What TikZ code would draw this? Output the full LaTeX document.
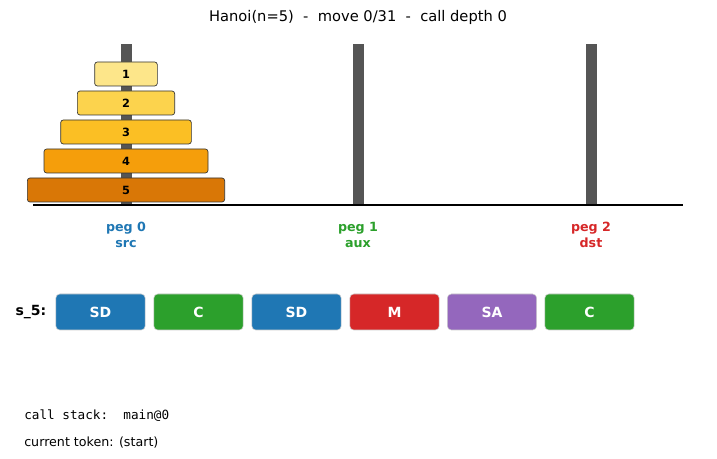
\documentclass[tikz,border=0pt]{standalone}
\usepackage{fontspec}
\setmainfont{DejaVu Sans}
\setmonofont{DejaVu Sans Mono}
\usetikzlibrary{positioning}
\definecolor{tabblue}{HTML}{1F77B4}
\definecolor{tabgreen}{HTML}{2CA02C}
\definecolor{tabred}{HTML}{D62728}
\definecolor{tabpurple}{HTML}{9467BD}
\definecolor{pegcol}{HTML}{555555}
\definecolor{dA}{HTML}{FDE68A}
\definecolor{dB}{HTML}{FCD34D}
\definecolor{dC}{HTML}{FBBF24}
\definecolor{dD}{HTML}{F59E0B}
\definecolor{dE}{HTML}{D97706}
\tikzset{
  disk/.style={draw=black!80,line width=0.5pt,rounded corners=2pt,minimum height=18pt,
    inner sep=0pt,font=\bfseries\fontsize{8.5}{9}\selectfont},
  tok/.style={draw=white!80!black,line width=0.4pt,rounded corners=3pt,minimum width=67pt,
    minimum height=27pt,text=white,font=\bfseries\fontsize{10.5}{12}\selectfont},
  peglbl/.style={align=center,font=\bfseries\fontsize{9.5}{11.5}\selectfont}
}
\begin{document}
\begin{tikzpicture}[x=0.75pt,y=-0.75pt]
  \useasboundingbox (0,0) rectangle (717,459);
  \node (title) at (358,17) {\fontsize{11}{12}\selectfont Hanoi(n=5)\ \ -\ \ move 0/31\ \ -\ \ call depth 0};
  % pegs
  \foreach \px in {126,358,591}
    \fill[pegcol] (\px-5.5,44) rectangle (\px+5.5,205);
  \draw[line width=1pt] (33,205) -- (683,205);
  % disks
  \node[disk,fill=dE,minimum width=148pt] (d5) at (126,190) {5};
  \node[disk,fill=dD,minimum width=123pt] (d4) at (126,161) {4};
  \node[disk,fill=dC,minimum width=98pt] (d3) at (126,132) {3};
  \node[disk,fill=dB,minimum width=73pt] (d2) at (126,103) {2};
  \node[disk,fill=dA,minimum width=47pt] (d1) at (126,74) {1};
  % peg labels
  \node[peglbl,text=tabblue] (p0) at (126,235) {peg 0\\src};
  \node[peglbl,text=tabgreen] (p1) at (358,235) {peg 1\\aux};
  \node[peglbl,text=tabred] (p2) at (591,235) {peg 2\\dst};
  % token row
  \node[font=\bfseries\fontsize{10.5}{12}\selectfont] (s5) at (31,312) {s\_5:};
  \node[tok,fill=tabblue] (t1) at (100.5,312) {SD};
  \node[tok,fill=tabgreen] (t2) at (198.5,312) {C};
  \node[tok,fill=tabblue] (t3) at (296.5,312) {SD};
  \node[tok,fill=tabred] (t4) at (394.5,312) {M};
  \node[tok,fill=tabpurple] (t5) at (492,312) {SA};
  \node[tok,fill=tabgreen] (t6) at (589.5,312) {C};
  % status
  \node[anchor=west,font=\ttfamily\fontsize{9.5}{10}\selectfont,inner sep=0pt] (stack) at (24,416) {call stack:\ \ main@0};
  \node[anchor=west,font=\fontsize{9.5}{10}\selectfont,inner sep=0pt] (cur) at (24,443) {current token: (start)};
\end{tikzpicture}
\end{document}
